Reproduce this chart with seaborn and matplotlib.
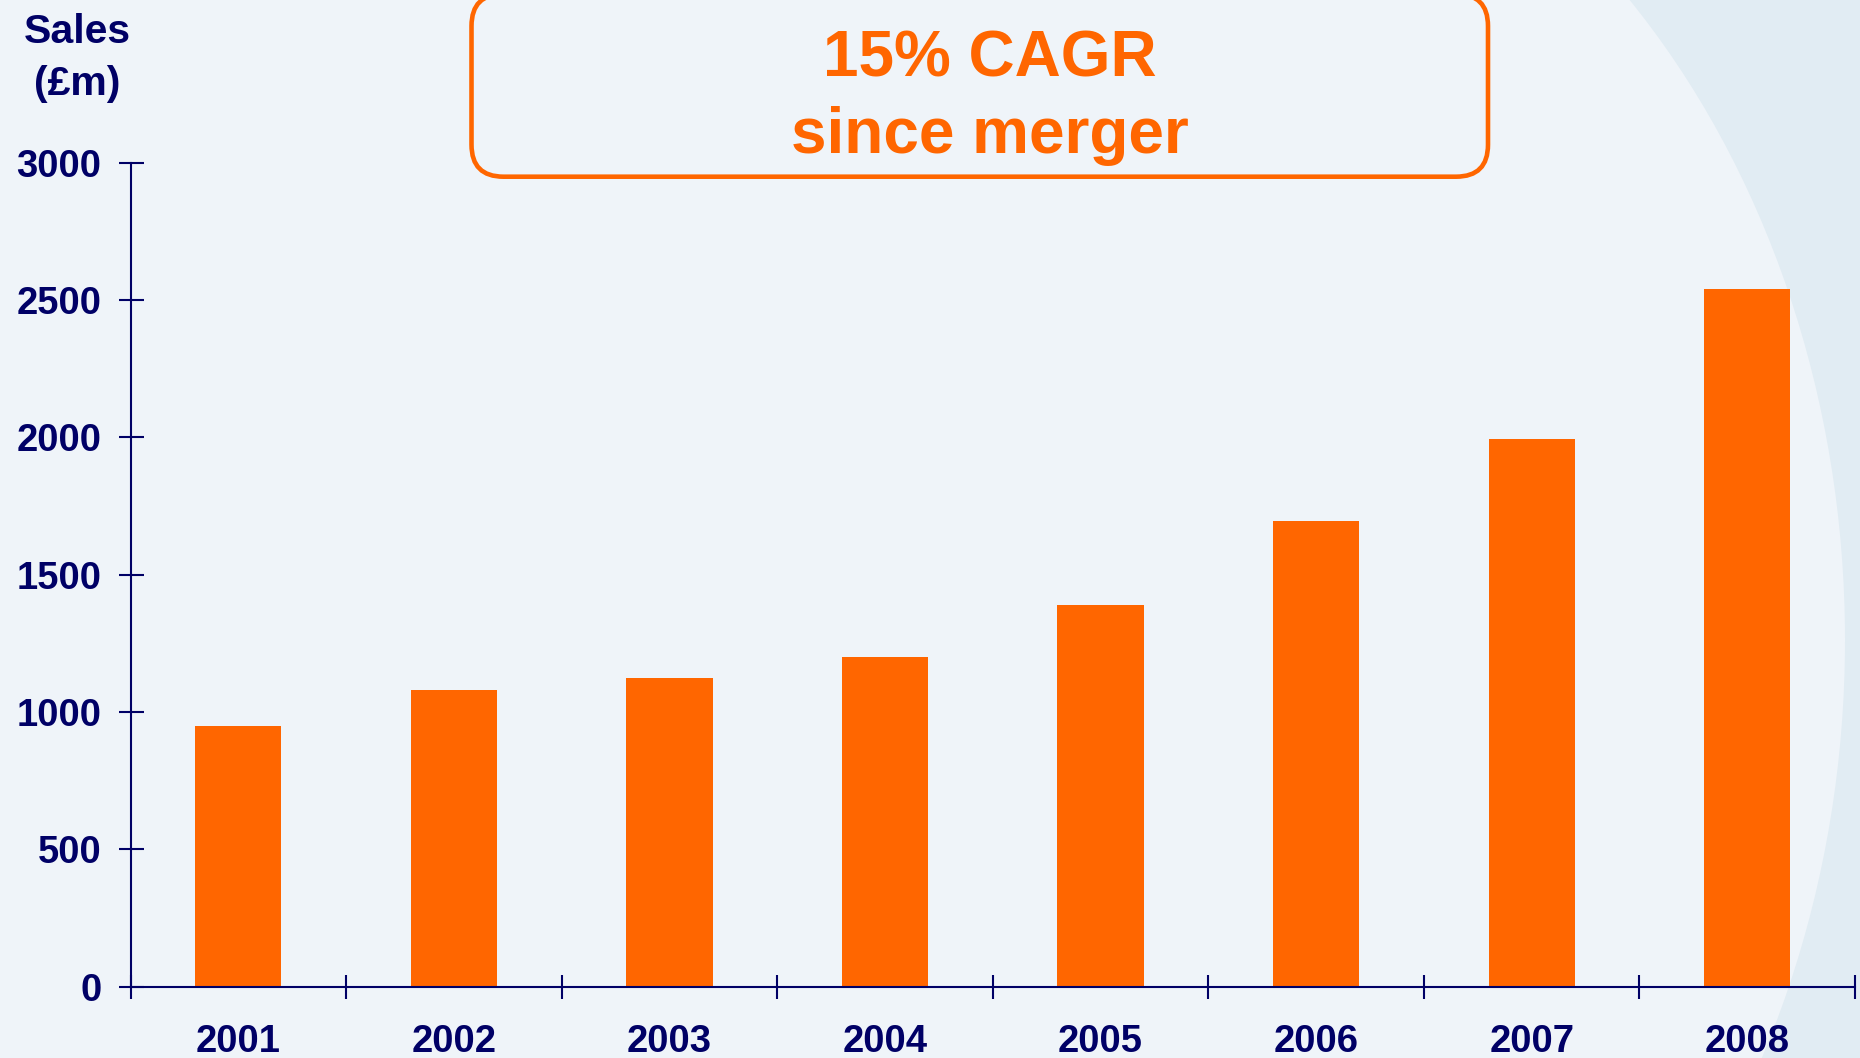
import matplotlib
matplotlib.use("Agg")
import matplotlib.pyplot as plt
import seaborn as sns
from matplotlib.patches import FancyBboxPatch, Rectangle, Ellipse
from matplotlib.transforms import Affine2D

# ---- data ----
years = ["2001", "2002", "2003", "2004", "2005", "2006", "2007", "2008"]
sales = [950, 1080, 1125, 1200, 1390, 1695, 1995, 2540]
y_ticks = [0, 500, 1000, 1500, 2000, 2500, 3000]
axis_title = ["Sales", "(£m)"]
callout_lines = ["15% CAGR", "since merger"]

# ---- style ----
BG = "#EFF4F9"
BG_DARK = "#E1ECF3"
ORANGE = "#FF6600"
NAVY = "#000066"

sns.set_style("white")
plt.rcParams["font.family"] = ["Liberation Sans", "DejaVu Sans"]
plt.rcParams["font.weight"] = "bold"

W, H, DPI = 1860, 1058, 100
fig = plt.figure(figsize=(W / DPI, H / DPI), dpi=DPI)
fig.patch.set_facecolor(BG)
px = Affine2D().scale(1, -1).translate(0, H)  # pixel coords, origin top-left

# background decoration (large soft circle on the right)
fig.add_artist(Rectangle((1150, 0), W - 1150, H, transform=px,
                         facecolor=BG_DARK, edgecolor="none", zorder=-3))
fig.add_artist(Ellipse((1100, 640), 1490, 1820, transform=px,
                       facecolor=BG, edgecolor="none", zorder=-2))

# ---- axes ----
x0, x1, y_top, y_bot = 130.5, 1855, 162.5, 986.7
ax = fig.add_axes([x0 / W, 1 - y_bot / H, (x1 - x0) / W, (y_bot - y_top) / H])
ax.patch.set_alpha(0)

sns.barplot(x=years, y=sales, color=ORANGE, saturation=1, width=0.4,
            edgecolor="none", linewidth=0, ax=ax)

ax.set_xlim(-0.5, len(years) - 0.5)
ax.set_ylim(0, 3000)
ax.set_xlabel("")
ax.set_ylabel("")

for s in ["top", "right"]:
    ax.spines[s].set_visible(False)
for s in ["left", "bottom"]:
    ax.spines[s].set_color(NAVY)
    ax.spines[s].set_linewidth(1.5)
    ax.spines[s].set_zorder(5)

ax.set_xticks(range(len(years)))
ax.set_xticklabels(years)
ax.set_xticks([i - 0.5 for i in range(len(years) + 1)], minor=True)
ax.tick_params(axis="x", which="major", bottom=True, length=0, pad=27,
               labelsize=27.5, labelcolor=NAVY)
ax.tick_params(axis="x", which="minor", bottom=True, length=17, width=1.5,
               direction="inout", color=NAVY)
ax.set_yticks(y_ticks)
ax.set_yticklabels([str(v) for v in y_ticks])
ax.tick_params(axis="y", which="major", left=True, length=18, width=1.5,
               direction="inout", pad=12, color=NAVY, labelsize=27.5,
               labelcolor=NAVY)
for lab in ax.get_xticklabels() + ax.get_yticklabels():
    lab.set_fontweight("bold")

# ---- axis title ----
fig.text(77, 43, axis_title[0], transform=px, ha="center", va="baseline",
         fontsize=29.5, fontweight="bold", color=NAVY)
fig.text(77, 95, axis_title[1], transform=px, ha="center", va="baseline",
         fontsize=29.5, fontweight="bold", color=NAVY)

# ---- callout box ----
fig.add_artist(FancyBboxPatch((471.5, -6), 1488 - 471.5, 176.7 + 6,
                              boxstyle="round,pad=0,rounding_size=32",
                              transform=px, fill=False, edgecolor=ORANGE,
                              linewidth=3.3, zorder=3))
fig.text(990, 76.7, callout_lines[0], transform=px, ha="center", va="baseline",
         fontsize=46, fontweight="bold", color=ORANGE, zorder=4)
fig.text(990, 152.7, callout_lines[1], transform=px, ha="center", va="baseline",
         fontsize=46, fontweight="bold", color=ORANGE, zorder=4)

fig.savefig("out.png", dpi=DPI, facecolor=fig.get_facecolor())
